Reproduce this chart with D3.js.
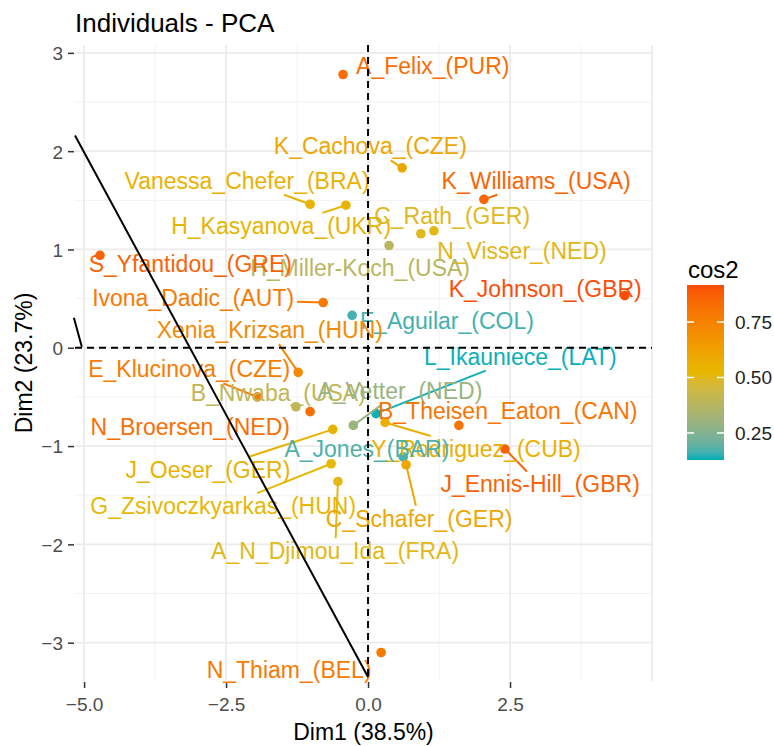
<!DOCTYPE html>
<html>
<head>
<meta charset="utf-8">
<script src="https://cdn.jsdelivr.net/npm/d3@7"></script>
<style>
  body { margin: 0; background: #fff; }
  text { font-family: "Liberation Sans", Arial, sans-serif; }
</style>
</head>
<body>
<div id="chart"></div>
<script>
// individuals (PCA coordinates)
var names = ["A_Felix_(PUR)", "K_Cachova_(CZE)", "Vanessa_Chefer_(BRA)", "H_Kasyanova_(UKR)",
  "K_Williams_(USA)", "C_Rath_(GER)", "N_Visser_(NED)", "H_Miller-Koch_(USA)", "S_Yfantidou_(GRE)",
  "Ivona_Dadic_(AUT)", "K_Johnson_(GBR)", "F_Aguilar_(COL)", "Xenia_Krizsan_(HUN)", "L_Ikauniece_(LAT)",
  "E_Klucinova_(CZE)", "B_Nwaba_(USA)", "A_Vetter_(NED)", "N_Broersen_(NED)", "B_Theisen_Eaton_(CAN)",
  "Y_Rodriguez_(CUB)", "A_Jones_(BAR)", "J_Oeser_(GER)", "J_Ennis-Hill_(GBR)", "G_Zsivoczkyarkas_(HUN)",
  "C_Schafer_(GER)", "A_N_Djimou_Ida_(FRA)", "N_Thiam_(BEL)"];
var dim1 = [-0.44, 0.60, -1.02, -0.39, 2.04, 0.93, 1.16, 0.37, -4.72, -0.79, 4.52, -0.28, -1.23, 0.14,
  -1.95, -1.27, -0.26, -1.02, 1.60, 0.30, 0.62, -0.62, 2.41, -0.65, 0.67, -0.53, 0.23];
var dim2 = [2.78, 1.83, 1.46, 1.45, 1.51, 1.16, 1.19, 1.04, 0.94, 0.46, 0.53, 0.33, -0.25, -0.67,
  -0.50, -0.60, -0.79, -0.65, -0.79, -0.76, -1.11, -0.83, -1.03, -1.18, -1.19, -1.36, -3.10];
var cos2 = [0.82, 0.60, 0.55, 0.54, 0.85, 0.50, 0.51, 0.38, 0.86, 0.78, 0.92, 0.16, 0.72, 0.13,
  0.77, 0.40, 0.30, 0.82, 0.80, 0.56, 0.17, 0.55, 0.86, 0.52, 0.60, 0.51, 0.78];
// where the repelled labels ended up (data units)
var labelX = [1.14, 0.04, -2.13, -1.53, 2.96, 1.48, 2.71, -0.14, -3.13, -3.08, 3.12, 1.39, -1.73, 2.68,
  -3.15, -1.58, 0.56, -3.13, 2.46, 1.90, -0.02, -2.82, 3.03, -2.55, 0.90, -0.58, -1.39];
var labelY = [2.87, 2.05, 1.70, 1.24, 1.70, 1.34, 0.98, 0.81, 0.85, 0.51, 0.60, 0.27, 0.18, -0.09,
  -0.22, -0.46, -0.44, -0.81, -0.64, -1.03, -1.03, -1.24, -1.39, -1.61, -1.74, -2.07, -3.28];
var leaders = ["K_Cachova_(CZE)", "Vanessa_Chefer_(BRA)", "H_Kasyanova_(UKR)", "K_Williams_(USA)",
  "Ivona_Dadic_(AUT)", "Xenia_Krizsan_(HUN)", "E_Klucinova_(CZE)", "A_Vetter_(NED)", "L_Ikauniece_(LAT)",
  "Y_Rodriguez_(CUB)", "J_Oeser_(GER)", "J_Ennis-Hill_(GBR)", "G_Zsivoczkyarkas_(HUN)",
  "C_Schafer_(GER)", "A_N_Djimou_Ida_(FRA)"];

var xTicks = [-5, -2.5, 0, 2.5];
var xMinor = [-3.75, -1.25, 1.25, 3.75];
var yTicks = [-3, -2, -1, 0, 1, 2, 3];
var yMinor = [-2.5, -1.5, -0.5, 0.5, 1.5, 2.5];
var legendTicks = [0.25, 0.50, 0.75];
var cos2Range = [0.128, 0.917];
var gradientCols = ["#00AFBB", "#E7B800", "#FC4E07"];

// the two black strokes on the left of the panel
var strokeA = [[-5.16, 2.16], [0.0, -3.35]];
var strokeB = [[-5.18, 0.305], [-5.04, 0.01]];

var svg = d3.select("#chart").append("svg")
    .attr("width", 774)
    .attr("height", 746);

var x = d3.scaleLinear().domain([-5.16, 5.0]).range([75, 652]);
var y = d3.scaleLinear().domain([-3.39, 3.08]).range([681, 45]);

var col = d3.scaleLinear()
    .domain([cos2Range[0], (cos2Range[0] + cos2Range[1]) / 2, cos2Range[1]])
    .range(gradientCols)
    .interpolate(d3.interpolateLab);

// grid
var grid = svg.append("g");
grid.selectAll(".xmin").data(xMinor).enter().append("line")
    .attr("x1", d => x(d)).attr("x2", d => x(d))
    .attr("y1", y.range()[1]).attr("y2", y.range()[0])
    .style("stroke", "#F2F2F2").style("stroke-width", 1);
grid.selectAll(".ymin").data(yMinor).enter().append("line")
    .attr("y1", d => y(d)).attr("y2", d => y(d))
    .attr("x1", x.range()[0]).attr("x2", x.range()[1])
    .style("stroke", "#F2F2F2").style("stroke-width", 1);
grid.selectAll(".xmaj").data(xTicks.concat([5])).enter().append("line")
    .attr("x1", d => x(d)).attr("x2", d => x(d))
    .attr("y1", y.range()[1]).attr("y2", y.range()[0])
    .style("stroke", "#EBEBEB").style("stroke-width", 1.7);
grid.selectAll(".ymaj").data(yTicks).enter().append("line")
    .attr("y1", d => y(d)).attr("y2", d => y(d))
    .attr("x1", x.range()[0]).attr("x2", x.range()[1])
    .style("stroke", "#EBEBEB").style("stroke-width", 1.7);

// axes
var xAxis = svg.append("g")
    .attr("transform", "translate(0,682)")
    .call(d3.axisBottom(x).tickValues(xTicks).tickFormat(d3.format(".1f")).tickSize(6).tickPadding(10));
var yAxis = svg.append("g")
    .attr("transform", "translate(74,0)")
    .call(d3.axisLeft(y).tickValues(yTicks).tickFormat(d3.format("d")).tickSize(6).tickPadding(5));
[xAxis, yAxis].forEach(function(a) {
    a.select(".domain").remove();
    a.selectAll(".tick line").style("stroke", "#333").style("stroke-width", 1.5);
    a.selectAll(".tick text").style("fill", "#4D4D4D").style("font-size", "19px")
        .style("font-family", "'Liberation Sans', Arial, sans-serif");
});
yAxis.selectAll(".tick text").attr("dy", "0.36em");

// points
var data = names.map((n, i) => ({name: n, x: dim1[i], y: dim2[i], c: cos2[i], lx: labelX[i], ly: labelY[i]}));

svg.append("g").selectAll("circle")
    .data(data).enter().append("circle")
    .attr("cx", d => x(d.x))
    .attr("cy", d => y(d.y))
    .attr("r", 4.8)
    .style("fill", d => col(d.c));

var segG = svg.append("g");
var labG = svg.append("g");

var labels = labG.selectAll("text")
    .data(data).enter().append("text")
    .attr("x", d => x(d.lx))
    .attr("y", d => y(d.ly))
    .attr("dy", "0.35em")
    .attr("text-anchor", "middle")
    .style("font-size", "23px")
    .style("fill", d => col(d.c))
    .text(d => d.name);

// leader segments: from point toward label centre, stopped at the label box
labels.each(function(d) {
    if (leaders.indexOf(d.name) < 0) return;
    var b = this.getBBox();
    var pad = 3;
    var x0 = b.x - pad, x1 = b.x + b.width + pad, y0 = b.y + 3 - pad, y1 = b.y + b.height - 2 + pad;
    var px = x(d.x), py = y(d.y);
    var cx = (x0 + x1) / 2, cy = (y0 + y1) / 2;
    var dx = cx - px, dy = cy - py;
    // entry into the box is the later of the two slab entries
    var tEnter = Math.max(dx > 0 ? (x0 - px) / dx : dx < 0 ? (x1 - px) / dx : 0,
                          dy > 0 ? (y0 - py) / dy : dy < 0 ? (y1 - py) / dy : 0);
    tEnter = Math.max(0, Math.min(1, tEnter));
    segG.append("line")
        .attr("x1", px).attr("y1", py)
        .attr("x2", px + dx * tEnter).attr("y2", py + dy * tEnter)
        .style("stroke", col(d.c))
        .style("stroke-width", 2);
});

// reference lines
svg.append("line")
    .attr("x1", x(0)).attr("x2", x(0))
    .attr("y1", y.range()[1]).attr("y2", y.range()[0])
    .style("stroke", "#000").style("stroke-width", 2).style("stroke-dasharray", "7,5");
svg.append("line")
    .attr("x1", x.range()[0]).attr("x2", x.range()[1])
    .attr("y1", y(0)).attr("y2", y(0))
    .style("stroke", "#000").style("stroke-width", 2).style("stroke-dasharray", "7,5");

var line = d3.line().x(d => x(d[0])).y(d => y(d[1]));
[strokeA, strokeB].forEach(function(s) {
    svg.append("path")
        .attr("d", line(s))
        .style("fill", "none")
        .style("stroke", "#000")
        .style("stroke-width", 2);
});

// titles
svg.append("text")
    .attr("x", 75).attr("y", 32)
    .style("font-size", "26px").style("fill", "#000")
    .text("Individuals - PCA");
svg.append("text")
    .attr("x", (x.range()[0] + x.range()[1]) / 2).attr("y", 740)
    .attr("text-anchor", "middle")
    .style("font-size", "23px").style("fill", "#000")
    .text("Dim1 (38.5%)");
svg.append("text")
    .attr("transform", "translate(32," + (y.range()[0] + y.range()[1]) / 2 + ") rotate(-90)")
    .attr("text-anchor", "middle")
    .style("font-size", "23px").style("fill", "#000")
    .text("Dim2 (23.7%)");

// colour bar legend
var leg = d3.scaleLinear().domain(cos2Range).range([460, 285]);
var defs = svg.append("defs");
var grad = defs.append("linearGradient")
    .attr("id", "cosgrad")
    .attr("x1", "0").attr("y1", "1").attr("x2", "0").attr("y2", "0");
d3.range(0, 1.0001, 0.05).forEach(function(t) {
    grad.append("stop")
        .attr("offset", t)
        .attr("stop-color", col(cos2Range[0] + t * (cos2Range[1] - cos2Range[0])));
});
svg.append("rect")
    .attr("x", 687).attr("y", leg.range()[1])
    .attr("width", 37).attr("height", leg.range()[0] - leg.range()[1])
    .style("fill", "url(#cosgrad)");
legendTicks.forEach(function(v) {
    svg.append("line").attr("x1", 687).attr("x2", 694).attr("y1", leg(v)).attr("y2", leg(v))
        .style("stroke", "#fff").style("stroke-width", 1.5);
    svg.append("line").attr("x1", 717).attr("x2", 724).attr("y1", leg(v)).attr("y2", leg(v))
        .style("stroke", "#fff").style("stroke-width", 1.5);
    svg.append("text")
        .attr("x", 735).attr("y", leg(v)).attr("dy", "0.36em")
        .style("font-size", "19px").style("fill", "#222")
        .text(d3.format(".2f")(v));
});
svg.append("text")
    .attr("x", 688).attr("y", 278)
    .style("font-size", "24px").style("fill", "#000")
    .text("cos2");
</script>
</body>
</html>
